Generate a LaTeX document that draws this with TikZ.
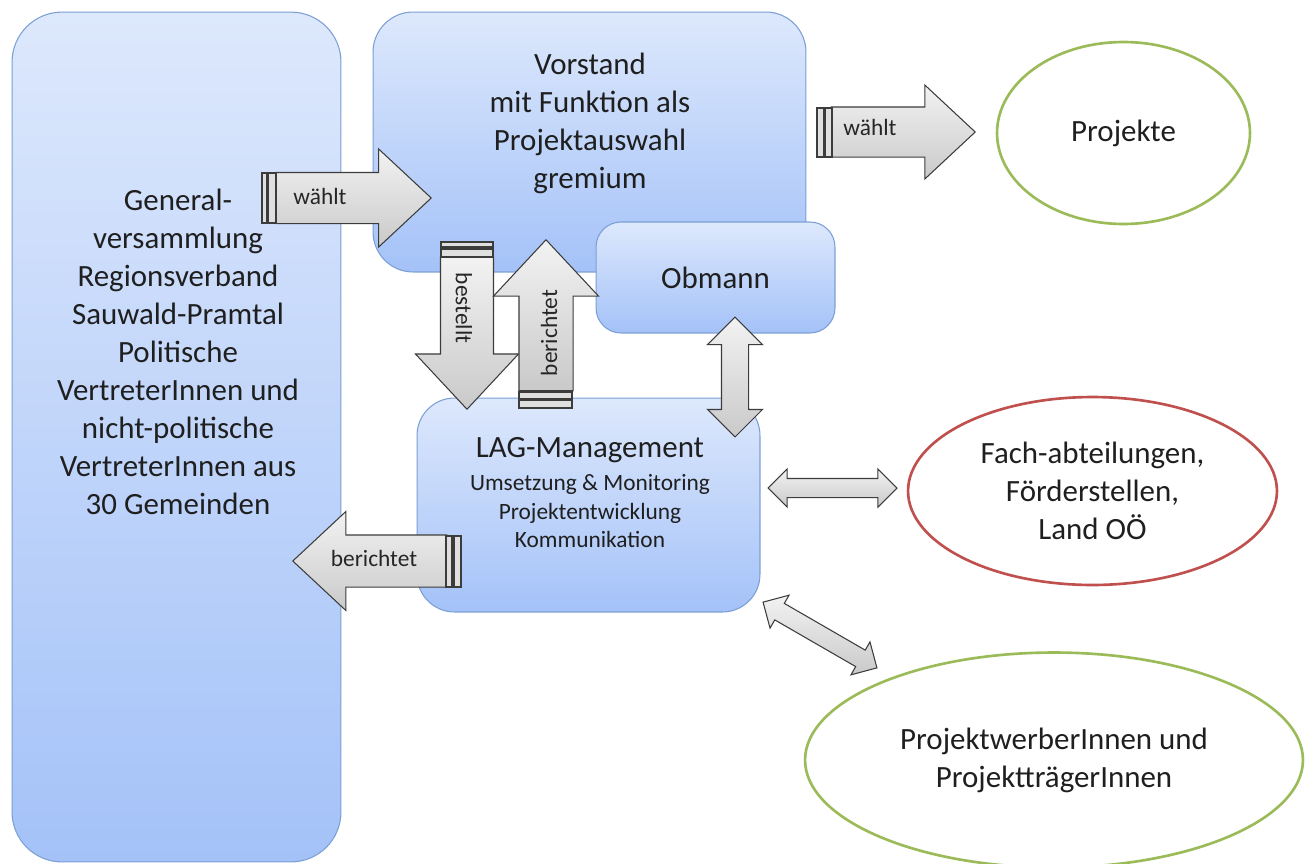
\documentclass[tikz,border=0pt]{standalone}
\usepackage{fontspec}
\setmainfont{Carlito}
\usepackage{tikz}
\usetikzlibrary{shapes.geometric,shapes.arrows}
\definecolor{boxtop}{HTML}{DDE8FC}
\definecolor{boxbottom}{HTML}{A4C2F8}
\definecolor{boxline}{HTML}{7B9FD4}
\definecolor{arrowline}{HTML}{3C3C3C}
\definecolor{ovalgreen}{HTML}{9BBB59}
\definecolor{ovalred}{HTML}{C0504D}
\newcommand{\bigtxt}{\fontsize{17.6}{21.6}\selectfont}
\newcommand{\smalltxt}{\fontsize{13.3}{16.4}\selectfont}
\tikzstyle{box} = [draw=boxline, line width=0.6pt, top color=boxtop, bottom color=boxbottom, inner sep=0pt]
\tikzstyle{big} = [font=\bigtxt, align=center, text=black!88]
\tikzstyle{small} = [font=\smalltxt, align=center, text=black!88]
\tikzstyle{blockarrow} = [single arrow, single arrow tip angle=86, draw=arrowline, line width=0.6pt, top color=gray!10, bottom color=gray!42, inner sep=0pt, text depth=0pt]
\tikzstyle{dblarrow} = [double arrow, draw=arrowline, line width=0.6pt, top color=gray!10, bottom color=gray!42, inner sep=0pt, text depth=0pt]
\tikzstyle{arrowtext} = [font=\smalltxt, text=black!85, inner sep=0pt]
\tikzstyle{stripe} = [draw=arrowline, line width=0.6pt, fill=gray!25]
\tikzstyle{oval} = [ellipse, draw, line width=1.5pt, fill=white, inner sep=0pt, font=\bigtxt, align=center, text=black!88]

\begin{document}
\begin{tikzpicture}[x=0.02cm, y=-0.02cm]
        \path[use as bounding box] (0,0) rectangle (1309,863);
        \clip (0,0) rectangle (1309,863);
        % boxes
        \node[box, rounded corners=1cm, minimum width=6.58cm, minimum height=17cm](gv) at (176.5,437){};
        \node[big](gvtext) at (178,352){General-\\versammlung\\Regionsverband\\Sauwald-Pramtal\\Politische\\VertreterInnen und\\nicht-politische\\VertreterInnen aus\\30 Gemeinden};
        \node[box, rounded corners=0.8cm, minimum width=8.66cm, minimum height=5.2cm](vorstand) at (589.5,142){};
        \node[big](vorstandtext) at (590,123){Vorstand\\mit Funktion als\\Projektauswahl\\gremium};
        \node[box, big, rounded corners=0.5cm, minimum width=4.78cm, minimum height=2.22cm](obmann) at (715.5,277.5){Obmann};
        \node[box, rounded corners=0.75cm, minimum width=6.86cm, minimum height=4.28cm](lag) at (588.5,505){};
        \node[small](lagtext) at (590,493){{\bigtxt LAG-Management}\\[2pt]Umsetzung \& Monitoring\\Projektentwicklung\\Kommunikation};
        % ovals
        \node[oval, draw=ovalgreen, minimum width=5.06cm, minimum height=3.64cm](projekte) at (1123.5,133){Projekte};
        \node[oval, draw=ovalred, minimum width=7.38cm, minimum height=3.76cm](fach) at (1092.5,491){Fach-abteilungen,\\Förderstellen,\\Land OÖ};
        \node[oval, draw=ovalgreen, minimum width=9.96cm, minimum height=4.3cm](werber) at (1054,760){ProjektwerberInnen und\\ProjektträgerInnen};
        % striped arrows
        \node[blockarrow, anchor=tip, text height=1cm, minimum height=3.1cm, minimum width=1.94cm, single arrow head extend=0.47cm](waehltgv) at (432,198){};
        \draw[stripe] (262,173) rectangle (267,223);
        \draw[stripe] (268,173) rectangle (276,223);
        \node[arrowtext](waehltgvtext) at (320,196){wählt};
        \node[blockarrow, anchor=tip, text height=0.98cm, minimum height=2.88cm, minimum width=1.86cm, single arrow head extend=0.44cm](waehltvs) at (976,132){};
        \draw[stripe] (817,108) rectangle (824,157);
        \draw[stripe] (825,108) rectangle (832,157);
        \node[arrowtext](waehltvstext) at (870,127){wählt};
        \node[blockarrow, rotate=-90, anchor=tip, text height=1.04cm, minimum height=3.04cm, minimum width=2.04cm, single arrow head extend=0.5cm](bestellt) at (467,410){};
        \draw[stripe] (441,242) rectangle (493,247);
        \draw[stripe] (441,249) rectangle (493,257);
        \node[arrowtext, rotate=-90](bestellttext) at (464,308){bestellt};
        \node[blockarrow, rotate=90, anchor=tip, text height=1.06cm, minimum height=3.02cm, minimum width=2.08cm, single arrow head extend=0.51cm](berichtetvs) at (546,239){};
        \draw[stripe] (519,392) rectangle (572,399);
        \draw[stripe] (519,400) rectangle (572,408);
        \node[arrowtext, rotate=90](berichtetvstext) at (549,333){berichtet};
        \node[blockarrow, shape border rotate=180, anchor=tip, text height=1.02cm, minimum height=3.08cm, minimum width=1.96cm, single arrow head extend=0.47cm](berichtetgv) at (292,561){};
        \draw[stripe] (446,536) rectangle (452,587);
        \draw[stripe] (454,536) rectangle (461,587);
        \node[arrowtext](berichtetgvtext) at (374,558){berichtet};
        % double arrows
        \node[dblarrow, rotate=90, text height=0.52cm, minimum height=2.4cm, minimum width=1.08cm, double arrow head extend=0.28cm](oblag) at (735,377){};
        \node[dblarrow, text height=0.36cm, minimum height=2.58cm, minimum width=0.74cm, double arrow head extend=0.19cm](lagfach) at (832.5,488){};
        \node[dblarrow, rotate=-30, text height=0.36cm, minimum height=2.63cm, minimum width=0.74cm, double arrow head extend=0.19cm](lagwerber) at (820,635){};
      \end{tikzpicture}
\end{document}
